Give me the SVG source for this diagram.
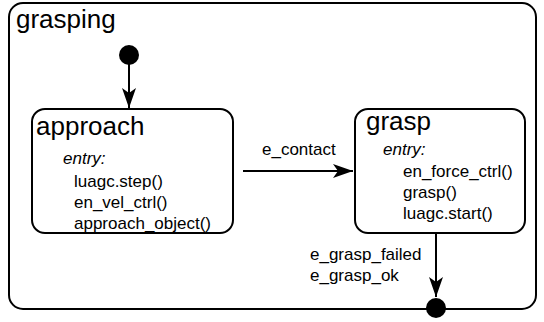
<svg xmlns="http://www.w3.org/2000/svg" width="544" height="322" viewBox="0 0 544 322">
  <style>
    .box { fill: #fff; stroke: #000; stroke-width: 2; }
    .title { font-family: "Liberation Sans", Arial, sans-serif; font-size: 26px; fill: #000; }
    .txt { font-family: "Liberation Sans", Arial, sans-serif; font-size: 17px; fill: #000; }
    .it { font-style: italic; }
    .edge { fill: none; stroke: #000; stroke-width: 2; }
  </style>
  <defs>
    <marker id="arrow" viewBox="0 0 20 14" refX="20" refY="7" markerWidth="20" markerHeight="14" markerUnits="userSpaceOnUse" orient="auto">
      <path d="M0,0 L20,7 L0,14 L5,7 Z" fill="#000"/>
    </marker>
  </defs>

  <g id="grasping">
    <rect class="box" x="9" y="3" width="527" height="306" rx="14"/>
    <text class="title" x="16" y="28">grasping</text>
  </g>

  <g id="initial">
    <circle cx="129" cy="55" r="10" fill="#000"/>
  </g>

  <g id="approach">
    <rect class="box" x="32" y="109" width="201" height="124" rx="13"/>
    <text class="title" x="36" y="135">approach</text>
    <text class="txt it" x="63" y="164">entry:</text>
    <text class="txt" x="74" y="187">luagc.step()</text>
    <text class="txt" x="74" y="208">en_vel_ctrl()</text>
    <text class="txt" x="74" y="229">approach_object()</text>
  </g>

  <g id="grasp">
    <rect class="box" x="355" y="109" width="170" height="124" rx="13"/>
    <text class="title" x="366" y="130">grasp</text>
    <text class="txt it" x="383" y="155">entry:</text>
    <text class="txt" x="403" y="177">en_force_ctrl()</text>
    <text class="txt" x="403" y="198">grasp()</text>
    <text class="txt" x="403" y="219">luagc.start()</text>
  </g>

  <g id="final">
    <circle cx="436" cy="308" r="10" fill="#000"/>
  </g>

  <g id="connectors">
    <line class="edge" x1="129" y1="64" x2="129" y2="108" marker-end="url(#arrow)"/>
    <line class="edge" x1="243" y1="171" x2="353" y2="171" marker-end="url(#arrow)"/>
    <text class="txt" x="262" y="155">e_contact</text>
    <line class="edge" x1="436" y1="233" x2="436" y2="297" marker-end="url(#arrow)"/>
    <text class="txt" x="310" y="260">e_grasp_failed</text>
    <text class="txt" x="310" y="281">e_grasp_ok</text>
  </g>
</svg>
